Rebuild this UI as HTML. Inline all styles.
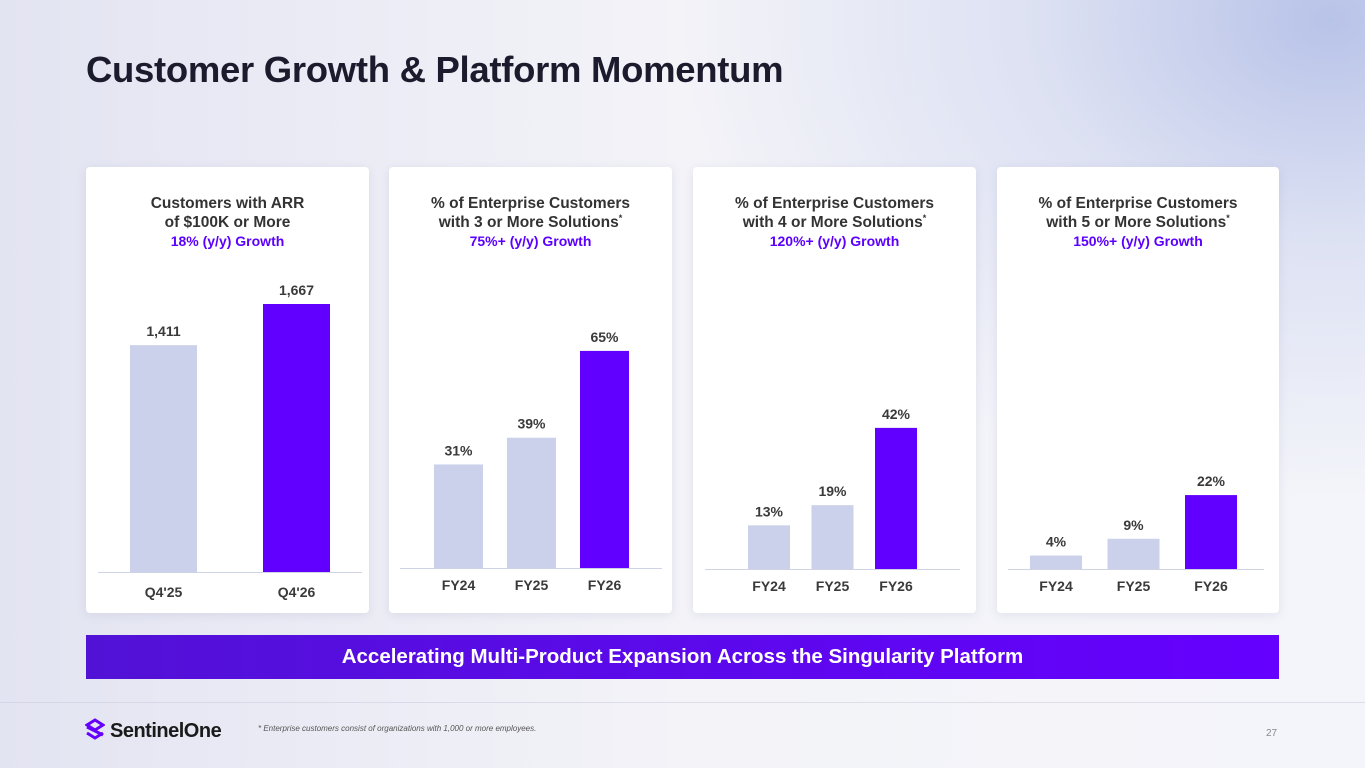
<!DOCTYPE html>
<html><head><meta charset="utf-8">
<style>
*{margin:0;padding:0;box-sizing:border-box}
body{width:1365px;height:768px;overflow:hidden;font-family:"Liberation Sans",Arial,sans-serif;position:relative;
background:radial-gradient(ellipse 650px 480px at 1330px 20px,#b8c3e8 0%,rgba(205,212,238,0.6) 45%,rgba(240,242,250,0) 100%),
linear-gradient(90deg,#e3e4f2 0%,#f3f3f8 50%,#f4f5fa 100%);}
.title{position:absolute;left:86px;top:49px;font-size:36.5px;font-weight:bold;color:#1c1b2e;letter-spacing:-0.3px}
.panel{position:absolute;top:167px;height:446px;background:#fff;border-radius:4px;box-shadow:0 2px 10px rgba(120,120,160,0.15)}
.ph{position:absolute;left:0;right:0;top:27px;text-align:center;font-weight:bold;font-size:15.5px;line-height:19px;color:#333}
.ph .g{color:#5b00ff;font-size:14px;line-height:18px}
.ph sup{font-size:9px;line-height:0;vertical-align:0;position:relative;top:-6px}
.banner{position:absolute;left:86px;top:635px;width:1193px;height:44px;background:linear-gradient(90deg,#5212d6,#6500ff);color:#fff;font-weight:bold;font-size:20.5px;text-align:center;line-height:44px}
.foot{position:absolute;left:258px;top:724px;font-size:8px;font-style:italic;color:#555}
.pg{position:absolute;left:1266px;top:728px;font-size:10px;color:#888}
.logo{position:absolute;left:85px;top:718px;display:flex;align-items:center;gap:5px;font-weight:bold;font-size:20px;letter-spacing:-0.5px;color:#1a1a1a}
.sep{position:absolute;left:0;top:702px;width:1365px;height:1px;background:rgba(200,200,220,0.5)}
svg{position:absolute;left:0;top:0}
</style></head><body>
<div class="title">Customer Growth &amp; Platform Momentum</div>

<div class="panel" style="left:86px;width:283px"><div class="ph">Customers with ARR<br>of $100K or More<br><span class="g">18% (y/y) Growth</span></div></div>
<div class="panel" style="left:389px;width:283px"><div class="ph">% of Enterprise Customers<br>with 3 or More Solutions<sup>*</sup><br><span class="g">75%+ (y/y) Growth</span></div></div>
<div class="panel" style="left:693px;width:283px"><div class="ph">% of Enterprise Customers<br>with 4 or More Solutions<sup>*</sup><br><span class="g">120%+ (y/y) Growth</span></div></div>
<div class="panel" style="left:997px;width:282px"><div class="ph">% of Enterprise Customers<br>with 5 or More Solutions<sup>*</sup><br><span class="g">150%+ (y/y) Growth</span></div></div>

<svg id="chart" width="1365" height="768"></svg>

<div class="banner">Accelerating Multi-Product Expansion Across the Singularity Platform</div>
<div class="sep"></div>
<div class="logo">
<svg width="20" height="26" viewBox="0 0 20 24" style="position:static"><path d="M10 1 L18 6 L10 11 L2 6 Z" fill="none" stroke="#6500ff" stroke-width="3"/><path d="M2 14 L10 19 L18 14" fill="none" stroke="#6500ff" stroke-width="3"/><path d="M2 8 L18 16" stroke="#6500ff" stroke-width="3"/></svg>
<span>SentinelOne</span></div>
<div class="foot">* Enterprise customers consist of organizations with 1,000 or more employees.</div>
<div class="pg">27</div>

<script>
const arrCategories = ["Q4'25","Q4'26"];
const arrValues = [1411,1667];
const arrLabels = ["1,411","1,667"];
const fyCategories = ["FY24","FY25","FY26"];
const sol3Values = [31,39,65];
const sol4Values = [13,19,42];
const sol5Values = [4,9,22];

const NS="http://www.w3.org/2000/svg";
const svg=document.getElementById('chart');
function mk(t,a){const e=document.createElementNS(NS,t);for(const k in a)e.setAttribute(k,a[k]);svg.appendChild(e);return e;}
const panels=[
 {cats:arrCategories,vals:arrValues,labels:arrLabels,base:572,scale:268/1667,x0:130,step:133,bw:67,ax:[98,362],lblY:597,name:'arr'},
 {cats:fyCategories,vals:sol3Values,labels:sol3Values.map(v=>v+'%'),base:568,scale:3.34,x0:434,step:73,bw:49,ax:[400,662],lblY:590,name:'sol3'},
 {cats:fyCategories,vals:sol4Values,labels:sol4Values.map(v=>v+'%'),base:569,scale:3.36,x0:748,step:63.5,bw:42,ax:[705,960],lblY:591,name:'sol4'},
 {cats:fyCategories,vals:sol5Values,labels:sol5Values.map(v=>v+'%'),base:569,scale:3.36,x0:1030,step:77.5,bw:52,ax:[1008,1264],lblY:591,name:'sol5'}
];
panels.forEach(p=>{
 const y=v=>p.base-v*p.scale;
 const axis=mk('line',{x1:p.ax[0],x2:p.ax[1],y1:p.base+0.5,y2:p.base+0.5,stroke:'#d0d3e6','stroke-width':1});
 
 
 p.vals.forEach((v,i)=>{
  const x=p.x0+i*p.step, last=i===p.vals.length-1;
  const r=mk('rect',{x:x,y:y(v),width:p.bw,height:p.base-y(v),fill:last?'#6100ff':'#cbd1ea'});
  
  
  const t=mk('text',{x:x+p.bw/2,y:y(v)-9,'text-anchor':'middle','font-size':14,'font-weight':'bold',fill:'#3a3a3a','font-family':'Liberation Sans, sans-serif'});
  t.textContent=p.labels[i];
  
  
  const c=mk('text',{x:x+p.bw/2,y:p.lblY,'text-anchor':'middle','font-size':14,'font-weight':'bold',fill:'#3a3a3a','font-family':'Liberation Sans, sans-serif'});
  c.textContent=p.cats[i];
  
  
 });
});
</script>
</body></html>
